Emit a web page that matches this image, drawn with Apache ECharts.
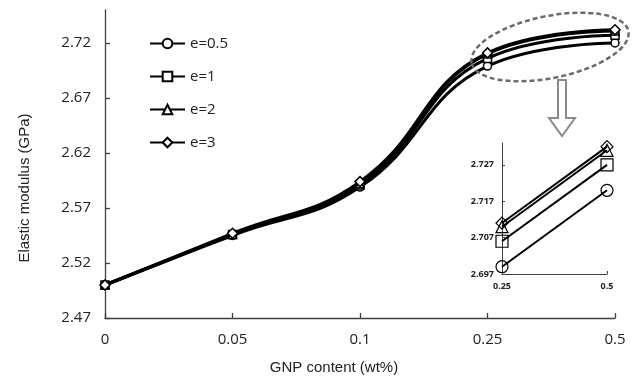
<!DOCTYPE html>
<html>
<head>
<meta charset="utf-8">
<script src="https://cdn.jsdelivr.net/npm/echarts@6/dist/echarts.min.js"></script>
<style>html,body{margin:0;padding:0;background:#fff}#c{width:638px;height:381px}</style>
</head>
<body>
<div id="c"></div>
<script>
const categories = ['0', '0.05', '0.1', '0.25', '0.5'];
const seriesNames = ['e=0.5', 'e=1', 'e=2', 'e=3'];
const e05 = [2.500, 2.545, 2.589, 2.699, 2.720];
const e1  = [2.500, 2.546, 2.591, 2.706, 2.727];
const e2  = [2.500, 2.546, 2.592, 2.710, 2.731];
const e3  = [2.500, 2.547, 2.594, 2.711, 2.732];
const yTicks = [2.47, 2.52, 2.57, 2.62, 2.67, 2.72];
const insetCategories = ['0.25', '0.5'];
const insetYTicks = [2.697, 2.707, 2.717, 2.727];
const symbols = ['circle', 'rect', 'triangle', 'diamond'];
const allData = [e05, e1, e2, e3];

const font = '"Open Sans", "Liberation Sans", sans-serif';
const axisColor = '#404040';
const textColor = '#222';

const mainSeries = allData.map((d, i) => ({
  name: seriesNames[i],
  type: 'line',
  xAxisIndex: 0, yAxisIndex: 0,
  data: d,
  smooth: 0.45,
  symbol: symbols[i],
  symbolSize: i === 3 ? 10 : 8,
  showAllSymbol: true,
  lineStyle: { color: '#000', width: 3 },
  itemStyle: { color: '#fff', borderColor: '#000', borderWidth: 1.5 },
  emphasis: { disabled: true },
  z: 2 + i
}));
const insetSeries = allData.map((d, i) => ({
  name: seriesNames[i],
  type: 'line',
  xAxisIndex: 1, yAxisIndex: 1,
  data: d.slice(3),
  symbol: symbols[i],
  symbolSize: 12,
  lineStyle: { color: '#000', width: 2 },
  itemStyle: { color: 'rgba(255,255,255,0)', borderColor: '#000', borderWidth: 1.2 },
  emphasis: { disabled: true },
  z: 2 + i
}));

const chart = echarts.init(document.getElementById('c'), null, { renderer: 'canvas' });
chart.setOption({
  animation: false,
  backgroundColor: '#fff',
  textStyle: { fontFamily: font },
  legend: {
    data: seriesNames,
    orient: 'vertical',
    left: 149, top: 36, padding: 0,
    itemWidth: 35, itemHeight: 12, itemGap: 18,
    textStyle: { fontSize: 15, color: textColor, fontFamily: font },
    selectedMode: false
  },
  grid: [
    { left: 105, right: 23, top: 10, bottom: 63 },
    { left: 502, right: 31, top: 143, bottom: 107 }
  ],
  xAxis: [
    {
      gridIndex: 0, type: 'category', data: categories, boundaryGap: false,
      axisLine: { lineStyle: { color: axisColor, width: 1.3 } },
      axisTick: { inside: true, length: 5, lineStyle: { color: axisColor, width: 1.3 } },
      axisLabel: { fontSize: 15, color: textColor, margin: 14, fontFamily: font },
      splitLine: { show: false }
    },
    {
      gridIndex: 1, type: 'category', data: insetCategories, boundaryGap: false,
      axisLine: { lineStyle: { color: axisColor, width: 1 } },
      axisTick: { inside: true, length: 3, lineStyle: { color: axisColor } },
      axisLabel: { fontSize: 9, fontWeight: 'bold', color: textColor, margin: 8, fontFamily: font },
      splitLine: { show: false }
    }
  ],
  yAxis: [
    {
      gridIndex: 0, type: 'value', min: 2.47, max: 2.75, interval: 0.05,
      axisLine: { show: true, lineStyle: { color: axisColor, width: 1.3 } },
      axisTick: { show: true, inside: true, length: 5, customValues: yTicks, lineStyle: { color: axisColor, width: 1.3 } },
      axisLabel: { fontSize: 15, color: textColor, margin: 14, customValues: yTicks, formatter: v => v.toFixed(2), fontFamily: font },
      splitLine: { show: false }
    },
    {
      gridIndex: 1, type: 'value', min: 2.697, max: 2.733, interval: 0.01,
      axisLine: { show: true, lineStyle: { color: axisColor, width: 1 } },
      axisTick: { show: true, inside: true, length: 3, customValues: insetYTicks, lineStyle: { color: axisColor } },
      axisLabel: { fontSize: 9, fontWeight: 'bold', color: textColor, margin: 8, customValues: insetYTicks, formatter: v => v.toFixed(3), fontFamily: font },
      splitLine: { show: false }
    }
  ],
  graphic: [
    {
      type: 'text', x: 25, y: 188, rotation: Math.PI / 2,
      style: { text: 'Elastic modulus (GPa)', fontSize: 15, fill: textColor, font: '15px ' + font, align: 'center', verticalAlign: 'middle' }
    },
    {
      type: 'text', x: 334, y: 368,
      style: { text: 'GNP content (wt%)', fontSize: 15, fill: textColor, font: '15px ' + font, align: 'center', verticalAlign: 'middle' }
    },
    {
      type: 'ellipse', x: 550, y: 47, rotation: 0.2, z: 10,
      shape: { cx: 0, cy: 0, rx: 80, ry: 31 },
      style: { fill: 'none', stroke: '#6b6b6b', lineWidth: 2.5, lineDash: [5, 3] }
    },
    {
      type: 'polygon', z: 10,
      shape: { points: [[558, 80], [566, 80], [566, 118], [575, 118], [562, 136], [549, 118], [558, 118]] },
      style: { fill: '#fff', stroke: '#8a8a8a', lineWidth: 2 }
    }
  ],
  series: mainSeries.concat(insetSeries)
});
</script>
</body>
</html>
